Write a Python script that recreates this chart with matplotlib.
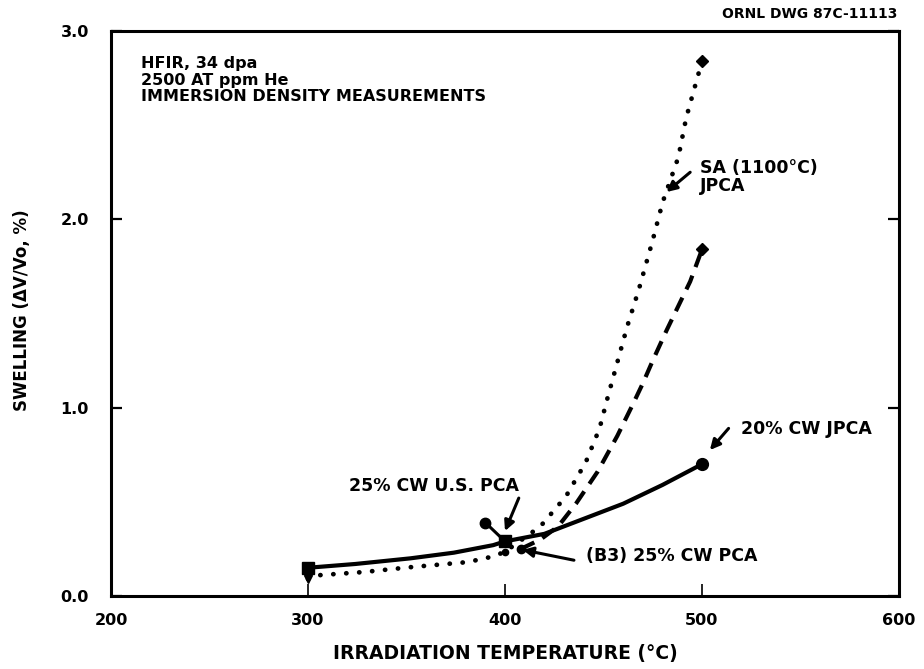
import matplotlib
matplotlib.use("Agg")
import matplotlib.pyplot as plt

# --- traced curves: irradiation temperature (deg C) vs swelling (dV/Vo, %) ---
# 20% CW JPCA (solid)
temp_cw20 = [300, 312, 324, 352, 374, 394, 400, 420, 440, 460, 480, 500]
swell_cw20 = [0.15, 0.16, 0.17, 0.20, 0.23, 0.27, 0.29, 0.33, 0.41, 0.49, 0.59, 0.70]

# SA (1100 C) JPCA (dotted)
temp_sa = [300, 305, 328, 353, 381, 394, 400, 418, 431, 441, 448, 452, 457,
           462, 468, 475, 480, 488, 492, 500]
swell_sa = [0.09, 0.11, 0.127, 0.154, 0.18, 0.21, 0.235, 0.37, 0.53, 0.71, 0.89,
            1.05, 1.24, 1.43, 1.63, 1.89, 2.09, 2.33, 2.54, 2.84]

# (B3) 25% CW PCA (dashed)
temp_b3 = [408, 418, 427, 436, 447, 457, 465, 470, 475, 482, 488, 494, 500]
swell_b3 = [0.25, 0.30, 0.37, 0.49, 0.66, 0.85, 1.02, 1.13, 1.25, 1.41,
            1.54, 1.67, 1.84]

# 25% CW U.S. PCA single point
temp_us = [390]
swell_us = [0.39]

x_ticks = [200, 300, 400, 500, 600]
y_ticks = [0.0, 1.0, 2.0, 3.0]

plt.rcParams["font.family"] = ["DejaVu Sans"]
plt.rcParams["font.weight"] = "bold"

fig = plt.figure(figsize=(9.24, 6.69), dpi=100)
ax = fig.add_axes([111 / 924, 1 - 596 / 669, (899 - 111) / 924, (596 - 31) / 669])

ink = "black"

# curves
ax.plot(temp_cw20, swell_cw20, color=ink, lw=3.0, solid_capstyle="round")
ax.plot(temp_sa, swell_sa, color=ink, lw=3.4, linestyle=(0, (0.05, 2.7)),
        dash_capstyle="round")
ax.plot(temp_b3, swell_b3, color=ink, lw=3.0, linestyle=(0, (3.6, 2.2)))

# markers
ax.plot([temp_cw20[0], temp_cw20[6]], [swell_cw20[0], swell_cw20[6]], "s",
        color=ink, ms=8)
ax.plot([temp_cw20[-1]], [swell_cw20[-1]], "o", color=ink, ms=8.5)
ax.plot([temp_sa[-1]], [swell_sa[-1]], "D", color=ink, ms=6)
ax.plot([temp_b3[-1]], [swell_b3[-1]], "D", color=ink, ms=6)
ax.plot([temp_sa[0]], [swell_sa[0]], "v", color=ink, ms=6)
ax.plot([temp_sa[6]], [swell_sa[6]], "o", color=ink, ms=4.5)
ax.plot(temp_us, swell_us, "o", color=ink, ms=7.5)
ax.plot([temp_us[0], 397], [swell_us[0], 0.32], color=ink, lw=2.2)
ax.plot([temp_b3[0]], [swell_b3[0]], "o", color=ink, ms=6)

# labels with leader arrows
arrow = dict(arrowstyle="-|>,head_length=0.6,head_width=0.3", color=ink, lw=2.2,
             shrinkA=0, shrinkB=0)
txt = dict(fontsize=12.5, fontweight="bold", color=ink)

ax.annotate("", xy=(482, 2.145), xytext=(494, 2.25), arrowprops=arrow)
ax.text(499, 2.225, "SA (1100°C)\nJPCA", ha="left", va="center",
        linespacing=0.95, **txt)

ax.annotate("", xy=(504, 0.775), xytext=(513.5, 0.89), arrowprops=arrow)
ax.text(520, 0.887, "20% CW JPCA", ha="left", va="center", **txt)

ax.annotate("", xy=(400, 0.345), xytext=(407, 0.52), arrowprops=arrow)
ax.text(321, 0.584, "25% CW U.S. PCA", ha="left", va="center", **txt)

ax.annotate("", xy=(409, 0.245), xytext=(435, 0.19), arrowprops=arrow)
ax.text(441, 0.212, "(B3) 25% CW PCA", ha="left", va="center", **txt)

ax.text(215, 2.865, "HFIR, 34 dpa\n2500 AT ppm He\nIMMERSION DENSITY MEASUREMENTS",
        ha="left", va="top", fontsize=11.5, fontweight="bold", linespacing=1.1,
        color=ink)

# axes
ax.set_xlim(200, 600)
ax.set_ylim(0, 3.0)
ax.set_xticks(x_ticks)
ax.set_yticks(y_ticks)
ax.set_xticklabels([str(t) for t in x_ticks])
ax.set_yticklabels([f"{t:.1f}" for t in y_ticks])
for s in ax.spines.values():
    s.set_linewidth(2.2)
ax.tick_params(axis="x", direction="in", length=9, width=1.2, pad=12,
               labelsize=11.5)
ax.tick_params(axis="y", direction="in", length=8, width=1.6, pad=16,
               labelsize=11.5, right=True)
for lab in ax.get_xticklabels() + ax.get_yticklabels():
    lab.set_fontweight("bold")

fig.text(505 / 924, 1 - 654 / 669, "IRRADIATION TEMPERATURE (°C)", ha="center",
         va="center", fontsize=13.5, fontweight="bold")
fig.text(22 / 924, 1 - 310 / 669, "SWELLING (ΔV/Vo, %)", ha="center",
         va="center", rotation=90, fontsize=12, fontweight="bold")
fig.text(897 / 924, 1 - 14 / 669, "ORNL DWG 87C-11113", ha="right",
         va="center", fontsize=10, fontweight="bold")

fig.savefig("out.png", dpi=100, facecolor="white")
